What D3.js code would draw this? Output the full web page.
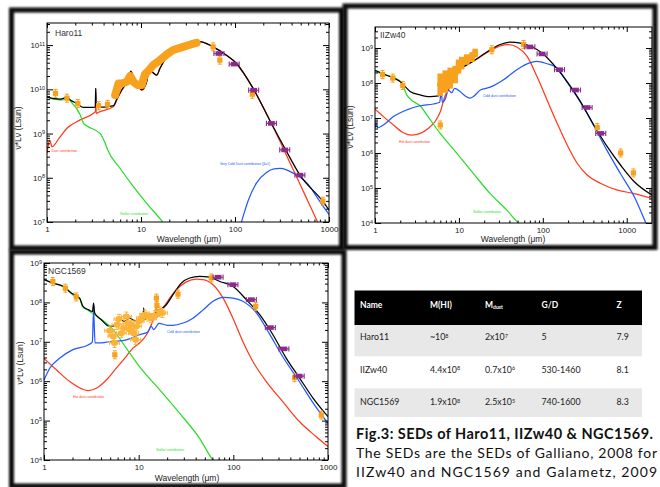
<!DOCTYPE html>
<html>
<head>
<meta charset="utf-8">
<title>SEDs</title>
<script src="https://d3js.org/d3.v7.min.js"></script>
<style>
  body { margin: 0; background: #fff; }
  svg { display: block; }
</style>
</head>
<body>
<div id="chart"></div>
<script>
"use strict"

// all curves: [wavelength (um), log10 of nuLnu (Lsun)]

// --- Haro11
var haroTotal = [[1,9.83],[1.18,9.79],[1.39,9.78],[1.55,9.81],[1.63,9.83],[1.77,9.76],[2.08,9.68],[2.45,9.59],[2.8,9.59],[3.26,9.6],[3.3,10.02],[3.34,9.6],[4.0,9.6],[5.1,9.63],[5.53,9.78],[6.25,9.99],[7.4,10.26],[7.8,10.41],[8.3,10.29],[9.4,10.07],[10.2,9.99],[11.5,10.18],[12.2,10.43],[13.0,10.4],[14.7,10.32],[15.9,10.47],[18.8,10.74],[24,10.89],[30.6,11.0],[37.5,11.08],[42,11.08],[58.5,10.96],[81,10.77],[103,10.59],[156,10.02],[245,9.22],[346,8.63],[491,8.06],[857,7.47],[1000,7.27]];
var haroDust = [[1,8.55],[1.04,8.78],[1.07,8.85],[1.13,8.7],[1.35,8.9],[1.63,9.12],[2.26,9.31],[3.13,9.46],[3.28,9.5],[3.3,10.02],[3.34,9.45],[3.45,9.47],[5.1,9.61],[5.53,9.76],[6.25,9.98],[7.4,10.25],[7.8,10.4],[8.3,10.28],[9.4,10.06],[10.2,9.98],[11.5,10.17],[12.2,10.43],[13.0,10.4],[14.7,10.32],[15.9,10.47],[18.8,10.74],[24,10.89],[30.6,11.0],[37.5,11.08],[42,11.08],[58.5,10.96],[81,10.77],[103,10.59],[156,10.02],[245,9.22],[300,8.83],[400,8.26],[500,7.82],[600,7.46],[769,6.97],[800,6.9]];
var haroStellar = [[1,9.82],[1.44,9.76],[1.55,9.77],[1.63,9.79],[1.8,9.72],[2.26,9.42],[2.45,9.23],[2.66,9.17],[3.68,9.0],[4.16,8.78],[4.4,8.64],[6.0,8.21],[8.3,7.8],[11.5,7.42],[17.3,6.98],[18,6.93]];
var haroVCD = [[116,6.97],[125,7.2],[138,7.48],[169,7.88],[216,8.12],[260,8.2],[301,8.21],[353,8.18],[420,8.1],[491,8.02],[600,7.85],[735,7.58],[857,7.37],[1000,7.17]];
var haroIRS = [[5.31,9.87],[5.76,10.13],[6.25,10.13],[7.07,10.17],[7.67,10.3],[8.3,10.17],[9.15,10.1],[10.2,10.1],[11.0,10.34],[12.0,10.42],[13.5,10.55],[15.9,10.66],[18.8,10.79],[22,10.89],[27,10.95],[34.5,11.02],[39,11.05]];
var haroPhot = [[1.23,9.91],[1.63,9.8],[2.13,9.68],[3.54,9.63],[4.4,9.66],[58.5,10.96],[69,10.66],[153,9.89],[860,7.47]];
var haroFIR = [[67.5,10.81],[98,10.57],[158,9.98],[244,9.23],[338,8.63],[490,8.06]];

// --- IIZw40
var iiTotal = [[1,8.36],[1.26,8.26],[1.66,8.14],[1.99,8.04],[2.28,7.9],[2.62,7.76],[3.45,7.66],[4.5,7.61],[5.7,7.63],[6.25,7.76],[7.2,7.95],[8.6,8.09],[10.3,8.38],[13.6,8.57],[18,8.76],[23.6,8.95],[31,9.1],[41,9.17],[54,9.14],[71,9.05],[98,8.86],[135,8.52],[195,8.04],[281,7.47],[405,6.8],[586,6.18],[847,5.65],[1230,5.18],[2030,4.79]];
var iiHot = [[1,7.25],[1.26,7.04],[1.66,6.8],[2.18,6.58],[2.74,6.51],[3.45,6.56],[4.34,6.71],[5.2,6.9],[6.0,7.18],[6.9,7.66],[7.5,7.8],[7.9,7.95],[9.0,8.19],[10.3,8.38],[13.6,8.57],[18,8.75],[23.6,8.92],[31,9.06],[39,9.1],[49,9.03],[65,8.76],[85,8.19],[112,7.52],[148,6.85],[195,6.23],[258,5.7],[337,5.37],[490,5.13],[778,4.94],[1230,4.84],[2030,4.7]];
var iiCold = [[1,6.71],[1.03,6.86],[1.07,6.72],[1.26,6.8],[1.66,7.04],[2.39,7.23],[3.45,7.35],[4.97,7.4],[5.9,7.45],[6.15,7.76],[6.35,7.45],[6.9,7.55],[7.5,7.8],[8.2,7.72],[8.9,7.85],[10.3,7.76],[12,7.62],[13.6,7.57],[15,7.62],[18,7.8],[23.6,7.88],[34,8.09],[49,8.38],[68,8.57],[85,8.62],[112,8.55],[148,8.43],[195,8.02],[281,7.45],[405,6.78],[586,6.06],[847,5.4],[1230,4.75],[1690,4.0],[1800,3.85]];
var iiStellar = [[1,8.33],[1.26,8.24],[1.66,8.16],[2.08,8.0],[2.39,7.66],[2.87,7.47],[3.45,7.35],[4.14,7.09],[5.98,6.56],[9.47,5.99],[14.9,5.41],[23.6,4.84],[37.5,4.36],[51.5,4.0],[55,3.95]];
var iiIRS = [[5.98,7.95],[6.87,8.04],[7.87,8.14],[9.02,8.24],[9.9,8.47],[10.8,8.57],[12.4,8.67],[14.3,8.74],[15.6,8.86]];
var iiIRSerr = [0.32,0.32,0.3,0.25,0.2,0.18,0.15,0.14,0.12];
var iiPhot = [[1.23,8.24],[1.63,8.14],[2.14,7.93],[6,6.8],[24.7,8.95],[59,9.1],[445,6.73],[847,6.0],[1200,5.43]];
var iiFIR = [[70,9.03],[98,8.83],[158,8.38],[245,7.8],[337,7.3],[490,6.56]];

// --- NGC1569
var ngcTotal = [[1,8.58],[1.24,8.49],[1.59,8.41],[1.94,8.24],[2.38,8.11],[2.58,7.9],[2.97,7.81],[3.25,7.77],[3.34,7.98],[3.43,7.73],[4.03,7.56],[4.94,7.39],[5.8,7.43],[6.3,7.56],[7.1,7.52],[8.0,7.6],[9.4,7.52],[11.05,7.56],[11.3,7.86],[11.55,7.56],[13.6,7.69],[15.9,7.77],[19.6,7.94],[23,8.19],[28.2,8.49],[34.6,8.62],[44,8.66],[56,8.64],[72,8.53],[99,8.41],[137,8.07],[190,7.69],[262,7.18],[363,6.58],[501,6.08],[695,5.57],[1000,5.1]];
var ngcHot = [[1,6.58],[1.35,6.29],[1.87,5.99],[2.48,5.81],[2.92,5.76],[3.57,5.82],[4.55,6.03],[5.8,6.33],[7.4,6.63],[8.7,6.84],[10.2,6.97],[12.1,7.18],[13.6,7.43],[14.7,7.6],[15.1,7.62],[15.3,7.9],[15.6,7.62],[17,7.75],[19.6,7.98],[25,8.32],[31.9,8.52],[40.5,8.59],[47.6,8.58],[61,8.45],[78,8.11],[99,7.6],[126,7.01],[161,6.5],[223,5.99],[333,5.48],[501,4.97],[752,4.59],[1000,4.34]];
var ngcCold = [[1,6.03],[1.15,6.33],[1.46,6.58],[2.02,6.8],[2.92,6.92],[3.24,6.99],[3.34,7.8],[3.46,6.97],[3.87,6.97],[4.55,6.99],[5.36,7.01],[7.4,7.05],[10.2,7.18],[12.5,7.25],[13.6,7.39],[14.4,7.31],[16.4,7.47],[20,7.42],[23,7.42],[29,7.47],[37.5,7.6],[48,7.81],[61,8.03],[78,8.13],[99,8.11],[126,8.03],[176,7.73],[241,7.2],[333,6.62],[501,5.98],[695,5.45],[1000,4.93]];
var ngcStellar = [[1,8.57],[1.3,8.48],[1.72,8.35],[2.02,8.19],[2.38,8.1],[2.54,7.9],[2.92,7.8],[3.87,7.6],[5.36,7.31],[7.4,6.84],[10.2,6.37],[16.7,5.78],[27,5.19],[44,4.55],[61,4.0],[65,3.93]];
var ngcIRS = [[4.94,7.28],[5.36,7.14],[5.57,6.97],[5.9,7.43],[6.2,7.58],[6.56,7.22],[6.95,7.35],[7.41,7.64],[7.71,7.47],[8.03,7.31],[8.37,7.43],[8.85,7.22],[9.29,7.05],[9.45,7.39],[10.1,7.52],[10.7,7.6],[11.6,7.69],[12.6,7.64],[13.6,7.6],[14.8,7.67],[16.7,7.77],[17.8,7.73]];
var ngcPhot = [[1.24,8.53],[1.68,8.36],[2.19,8.14],[5.6,6.67],[15.4,8.11],[15.6,7.92],[26,8.21],[58.5,8.62],[172,7.9],[444,6.09],[850,5.14]];
var ngcFIR = [[69,8.64],[99,8.45],[155,8.07],[246,7.36],[342,6.82],[496,6.13]];

// tick labels
var xTickLabels = [1, 10, 100, 1000];

// table
var tableHeader = ["Name", "M(HI)", "M", "G/D", "Z"];
var tableNames = ["Haro11", "IIZw40", "NGC1569"];
var tableMHI = [["~10", "8"], ["4.4x10", "8"], ["1.9x10", "8"]];
var tableMdust = [["2x10", "7"], ["0.7x10", "6"], ["2.5x10", "5"]];
var tableGD = ["5", "530-1460", "740-1600"];
var tableZ = ["7.9", "8.1", "8.3"];

var caption = [
  "Fig.3: SEDs of Haro11, IIZw40 & NGC1569.",
  "The SEDs are the SEDs of Galliano, 2008 for",
  "IIZw40 and NGC1569 and Galametz, 2009"
];

var RED = "#ff3b1c", GREEN = "#2bdc2b", BLUE = "#2259ff", ORANGE = "#f7a11d", PURPLE = "#8a2c8c";
var FONT = "'Liberation Sans', Arial, sans-serif";

var svg = d3.select("#chart").append("svg").attr("width", 660).attr("height", 487);
var defs = svg.append("defs");
defs.append("filter").attr("id", "soft").attr("x", "-10%").attr("y", "-10%").attr("width", "120%").attr("height", "120%")
  .append("feGaussianBlur").attr("stdDeviation", 1.3);
defs.append("filter").attr("id", "blur1")
  .append("feGaussianBlur").attr("stdDeviation", 0.45);

var panels = [
  { name: "Haro11", frame: [11.5, 10, 330, 238], l: 47, r: 329, t: 23, b: 222, xMax: 1000, yLo: 7, yHi: 11.5,
    curves: [[haroDust, RED], [haroStellar, GREEN], [haroVCD, BLUE], [haroTotal, "#000"]],
    band: haroIRS, bandW: 8, phot: haroPhot, fir: haroFIR,
    title: [55, 36], ylab: [21, 128], xlab: [189, 242],
    labels: [["Dust contribution", RED, 51.5, 152], ["Stellar contribution", GREEN, 120, 214.5], ["Very Cold Dust contribution (\u03b2=1)", BLUE, 220, 164.5]] },
  { name: "IIZw40", frame: [345, 6, 310, 241.5], l: 375, r: 652, t: 27, b: 223, xMax: 2000, yLo: 4, yHi: 9.6,
    curves: [[iiHot, RED], [iiStellar, GREEN], [iiCold, BLUE], [iiTotal, "#000"]],
    band: iiIRS, bandW: 6, bandErr: iiIRSerr, phot: iiPhot, fir: iiFIR,
    title: [380, 38], ylab: [353, 127], xlab: [513, 242],
    labels: [["Cold dust contribution", BLUE, 483, 97], ["Hot dust contribution", RED, 399, 143], ["Stellar contribution", GREEN, 473, 213]] },
  { name: "NGC1569", frame: [11.5, 252, 332.5, 234], l: 44, r: 328, t: 263, b: 460, xMax: 1000, yLo: 4, yHi: 9,
    curves: [[ngcHot, RED], [ngcStellar, GREEN], [ngcCold, BLUE], [ngcTotal, "#000"]],
    blobs: ngcIRS, phot: ngcPhot, fir: ngcFIR,
    title: [48, 274], ylab: [23, 363], xlab: [187, 481],
    labels: [["Cold dust contribution", BLUE, 167, 333], ["Hot dust contribution", RED, 73, 398], ["Stellar contribution", GREEN, 156, 451]] }
];

function drawPanel(p, i) {
  var g = svg.append("g");
  var x = d3.scaleLog().domain([1, p.xMax]).range([p.l, p.r]);
  var y = d3.scaleLog().domain([Math.pow(10, p.yLo), Math.pow(10, p.yHi)]).range([p.b, p.t]);
  var Y = function(v) { return y(Math.pow(10, v)); };

  defs.append("clipPath").attr("id", "clip" + i).append("rect")
    .attr("x", p.l).attr("y", p.t).attr("width", p.r - p.l).attr("height", p.b - p.t);
  var gc = g.append("g").attr("clip-path", "url(#clip" + i + ")");

  var line = d3.line().x(function(d) { return x(d[0]); }).y(function(d) { return Y(d[1]); }).curve(d3.curveMonotoneX);

  // model curves
  p.curves.forEach(function(c) {
    gc.append("path").datum(c[0]).attr("d", line)
      .attr("fill", "none").attr("stroke", c[1]).attr("stroke-width", 1.25).attr("stroke-linejoin", "round");
  });

  // spectrum band
  if (p.band) {
    if (p.bandErr) {
      gc.selectAll(".err").data(p.band).enter().append("line")
        .attr("x1", function(d) { return x(d[0]); }).attr("x2", function(d) { return x(d[0]); })
        .attr("y1", function(d, j) { return Y(d[1] + p.bandErr[j]); })
        .attr("y2", function(d, j) { return Y(d[1] - p.bandErr[j]); })
        .attr("stroke", ORANGE).attr("stroke-width", 5.5);
    }
    gc.append("path").datum(p.band).attr("d", line.curve(d3.curveLinear))
      .attr("fill", "none").attr("stroke", ORANGE).attr("stroke-width", p.bandW)
      .attr("stroke-linejoin", "round").attr("stroke-linecap", "round");
    line.curve(d3.curveMonotoneX);
  }

  // spectrum as separate blobs
  if (p.blobs) {
    var bl = gc.selectAll(".blob").data(p.blobs).enter().append("g")
      .attr("transform", function(d) { return "translate(" + x(d[0]) + "," + Y(d[1]) + ")"; });
    bl.append("path").attr("d", "M-5,0H5M0,-4.5V4.5M-5,-2V2M5,-2V2M-2,-4.5H2M-2,4.5H2")
      .attr("stroke", "#fbb43a").attr("stroke-width", 1);
    bl.append("ellipse").attr("rx", 3.6).attr("ry", 3).attr("fill", "#fbb43a");
  }

  // photometry points
  var ph = gc.selectAll(".phot").data(p.phot).enter().append("g")
    .attr("transform", function(d) { return "translate(" + x(d[0]) + "," + Y(d[1]) + ")"; });
  ph.append("path").attr("d", "M0,-4V4M-2,-4H2M-2,4H2").attr("stroke", ORANGE).attr("stroke-width", 1);
  ph.append("rect").attr("x", -2.6).attr("y", -2.6).attr("width", 5.2).attr("height", 5.2).attr("fill", ORANGE);

  // far-IR points
  var fr = gc.selectAll(".fir").data(p.fir).enter().append("g")
    .attr("transform", function(d) { return "translate(" + x(d[0]) + "," + Y(d[1]) + ")"; });
  fr.append("path").attr("d", "M-5,0H5M-5,-2.6V2.6M5,-2.6V2.6").attr("stroke", PURPLE).attr("stroke-width", 1.1);
  fr.append("rect").attr("x", -3.4).attr("y", -2.3).attr("width", 6.8).attr("height", 4.6).attr("fill", PURPLE);

  // axes: ticks point inward on all four sides
  var xMinor = [];
  [1, 10, 100, 1000].forEach(function(d) {
    for (var k = 2; k < 10; k++) if (k * d < p.xMax) xMinor.push(k * d);
  });
  var yMajor = [], yMinor = [];
  for (var e = Math.floor(p.yLo); e <= Math.floor(p.yHi); e++) {
    if (e >= p.yLo) yMajor.push(Math.pow(10, e));
    for (var k = 2; k < 10; k++) {
      var v = k * Math.pow(10, e);
      if (Math.log10(v) > p.yLo && Math.log10(v) < p.yHi) yMinor.push(v);
    }
  }
  var clean = function(s) { s.select(".domain").remove(); s.selectAll("line").attr("stroke", "#000"); };

  var xb = g.append("g").attr("transform", "translate(0," + p.b + ")")
    .call(d3.axisBottom(x).tickValues(xTickLabels.filter(function(d) { return d <= p.xMax; }))
      .tickSize(-5).tickPadding(4).tickFormat(d3.format("d"))).call(clean);
  xb.attr("font-size", 8).attr("font-family", FONT).selectAll("text").attr("fill", "#222");
  g.append("g").attr("transform", "translate(0," + p.b + ")")
    .call(d3.axisBottom(x).tickValues(xMinor).tickSize(-2.5).tickFormat("")).call(clean);
  g.append("g").attr("transform", "translate(0," + p.t + ")")
    .call(d3.axisTop(x).tickValues(xTickLabels.filter(function(d) { return d <= p.xMax; })).tickSize(-5).tickFormat("")).call(clean);
  g.append("g").attr("transform", "translate(0," + p.t + ")")
    .call(d3.axisTop(x).tickValues(xMinor).tickSize(-2.5).tickFormat("")).call(clean);

  var yl = g.append("g").attr("transform", "translate(" + p.l + ",0)")
    .call(d3.axisLeft(y).tickValues(yMajor).tickSize(-6).tickPadding(2).tickFormat("")).call(clean);
  yl.attr("font-size", 8).attr("font-family", FONT);
  yl.selectAll(".tick text").attr("fill", "#222").each(function(d) {
    var t = d3.select(this);
    t.text("10");
    t.append("tspan").attr("dy", "-0.45em").attr("font-size", "5.5px").text(Math.round(Math.log10(d)));
  });
  g.append("g").attr("transform", "translate(" + p.l + ",0)")
    .call(d3.axisLeft(y).tickValues(yMinor).tickSize(-3).tickFormat("")).call(clean);
  g.append("g").attr("transform", "translate(" + p.r + ",0)")
    .call(d3.axisRight(y).tickValues(yMajor).tickSize(-6).tickFormat("")).call(clean);
  g.append("g").attr("transform", "translate(" + p.r + ",0)")
    .call(d3.axisRight(y).tickValues(yMinor).tickSize(-3).tickFormat("")).call(clean);

  g.append("rect").attr("x", p.l).attr("y", p.t).attr("width", p.r - p.l).attr("height", p.b - p.t)
    .attr("fill", "none").attr("stroke", "#000").attr("stroke-width", 1);

  // texts
  g.append("text").attr("x", p.title[0]).attr("y", p.title[1]).text(p.name)
    .attr("font-family", FONT).attr("font-size", 8.5).attr("fill", "#333");
  g.append("text").attr("transform", "translate(" + p.ylab[0] + "," + p.ylab[1] + ") rotate(-90)")
    .attr("text-anchor", "middle").attr("font-family", FONT).attr("font-size", 8.5).attr("fill", "#222")
    .text("\u03bd*L\u03bd (Lsun)");
  g.append("text").attr("x", p.xlab[0]).attr("y", p.xlab[1]).attr("text-anchor", "middle")
    .attr("font-family", FONT).attr("font-size", 8.5).attr("fill", "#222").text("Wavelength (\u03bcm)");
  p.labels.forEach(function(lb) {
    g.append("text").attr("x", lb[2]).attr("y", lb[3]).text(lb[0])
      .attr("font-family", FONT).attr("font-size", 3.4).attr("fill", lb[1]);
  });
}

panels.forEach(drawPanel);

// thick dark frames around the plots
panels.forEach(function(p) {
  svg.append("rect").attr("x", p.frame[0]).attr("y", p.frame[1]).attr("width", p.frame[2]).attr("height", p.frame[3])
    .attr("fill", "none").attr("stroke", "#0d0d0d").attr("stroke-width", 5).attr("filter", "url(#soft)");
});

// table
var tab = svg.append("g").attr("font-family", "Lato, 'Open Sans', sans-serif");
var colX = [360, 430, 485, 541.5, 616.5];
var rowY = [325, 356.5, 388.3], rowH = [31.5, 31.8, 28.7], rowFill = ["#e8e8e8", "#ffffff", "#e8e8e8"];
tab.append("line").attr("x1", 356).attr("x2", 643).attr("y1", 418.5).attr("y2", 418.5)
  .attr("stroke", "#555").attr("stroke-width", 2.5).attr("filter", "url(#blur1)");
tab.append("rect").attr("x", 354.5).attr("y", 290.5).attr("width", 287.5).attr("height", 34.5).attr("fill", "#000");
rowY.forEach(function(ry, j) {
  tab.append("rect").attr("x", 354.5).attr("y", ry).attr("width", 287.5).attr("height", rowH[j]).attr("fill", rowFill[j]);
});
tableHeader.forEach(function(h, j) {
  var t = tab.append("text").attr("x", colX[j]).attr("y", 307.5).attr("fill", "#fff")
    .attr("font-weight", "bold").attr("font-size", 8.5).text(h);
  if (j === 2) t.append("tspan").attr("dy", "0.3em").attr("font-size", "5px").text("dust");
});
var rowBase = [340, 372.5, 405];
tableNames.forEach(function(n, j) {
  var yy = rowBase[j];
  var cell = function(cx, s) { return tab.append("text").attr("x", cx).attr("y", yy).attr("font-size", 8.8).attr("fill", "#222").text(s); };
  cell(colX[0], n);
  cell(colX[1], tableMHI[j][0]).append("tspan").attr("dy", "-0.45em").attr("font-size", "5.5px").text(tableMHI[j][1]);
  cell(colX[2], tableMdust[j][0]).append("tspan").attr("dy", "-0.45em").attr("font-size", "5.5px").text(tableMdust[j][1]);
  cell(colX[3], tableGD[j]);
  cell(colX[4], tableZ[j]);
});

// caption
var capY = [438.5, 458, 476.5];
caption.forEach(function(c, j) {
  svg.append("text").attr("x", 356).attr("y", capY[j])
    .attr("font-family", "Lato, 'Open Sans', sans-serif")
    .attr("font-size", j === 0 ? 14.5 : 14).attr("font-weight", j === 0 ? "bold" : "normal")
    .attr("fill", "#111").attr("textLength", j === 0 ? 297 : 301).attr("lengthAdjust", "spacing").text(c);
});
</script>
</body>
</html>
